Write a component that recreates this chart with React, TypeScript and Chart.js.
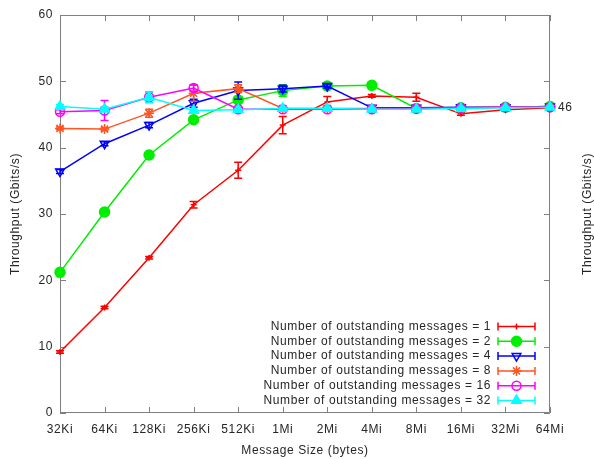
import React, { useEffect, useRef } from 'react';
import { Chart, registerables } from 'chart.js';
import { drawPoint } from 'chart.js/helpers';

Chart.register(...registerables);

const sizes = ['32Ki', '64Ki', '128Ki', '256Ki', '512Ki', '1Mi', '2Mi', '4Mi', '8Mi', '16Mi', '32Mi', '64Mi'];
const yTicks = [0, 10, 20, 30, 40, 50, 60];

const out1 = [9.2, 15.9, 23.4, 31.4, 36.6, 43.4, 46.9, 47.8, 47.6, 45.1, 45.7, 46.0];
const out1Err = [0.2, 0.2, 0.2, 0.5, 1.2, 1.3, 0.8, 0.2, 0.6, 0.2, 0.2, 0.2];
const out2 = [21.2, 30.3, 38.9, 44.2, 47.2, 48.6, 49.3, 49.4, 45.9, 46.0, 46.1, 46.2];
const out2Err = [0.2, 0.2, 0.2, 0.2, 0.3, 0.9, 0.3, 0.2, 0.2, 0.2, 0.2, 0.2];
const out4 = [36.4, 40.6, 43.4, 46.7, 48.6, 48.9, 49.3, 46.0, 46.0, 46.1, 46.1, 46.2];
const out4Err = [0.3, 0.3, 0.4, 0.6, 1.3, 0.5, 0.3, 0.2, 0.2, 0.2, 0.2, 0.2];
const out8 = [42.9, 42.8, 45.2, 48.2, 48.9, 45.9, 45.9, 45.9, 45.9, 46.0, 46.1, 46.1];
const out8Err = [0.2, 0.2, 0.6, 1.2, 0.6, 0.3, 0.3, 0.2, 0.2, 0.2, 0.2, 0.2];
const out16 = [45.4, 45.6, 47.6, 49.0, 45.8, 45.8, 45.8, 45.8, 45.9, 46.0, 46.1, 46.1];
const out16Err = [0.3, 1.5, 0.8, 0.5, 0.3, 0.3, 0.3, 0.2, 0.2, 0.2, 0.2, 0.2];
const out32 = [46.2, 45.8, 47.6, 45.6, 45.7, 45.9, 45.9, 45.8, 45.8, 45.9, 46.0, 46.1];
const out32Err = [0.3, 0.3, 0.8, 0.2, 0.2, 0.2, 0.2, 0.2, 0.2, 0.2, 0.2, 0.2];

const endLabelValue = 46.1;
const endLabelText = '46';

const FONT = "'Liberation Sans', Arial, sans-serif";
const TEXT = '#262626';
const AXIS = '#808080';
const SPACING = '0.6px';

const series = [
  { label: 'Number of outstanding messages = 1', data: out1, err: out1Err, color: '#ff0000', style: 'cross', radius: 3, rot: 0, fill: true },
  { label: 'Number of outstanding messages = 2', data: out2, err: out2Err, color: '#00ee00', style: 'circle', radius: 5, rot: 0, fill: true },
  { label: 'Number of outstanding messages = 4', data: out4, err: out4Err, color: '#0000ff', style: 'triangle', radius: 5, rot: 180, fill: false },
  { label: 'Number of outstanding messages = 8', data: out8, err: out8Err, color: '#ff5522', style: 'star', radius: 5, rot: 0, fill: false },
  { label: 'Number of outstanding messages = 16', data: out16, err: out16Err, color: '#ff00ff', style: 'circle', radius: 4.5, rot: 0, fill: false },
  { label: 'Number of outstanding messages = 32', data: out32, err: out32Err, color: '#00ffff', style: 'triangle', radius: 5.5, rot: 0, fill: true },
];

const gnuplotPlugin = {
  id: 'gnuplotLook',
  beforeDraw(chart: any) {
    (chart.ctx as any).letterSpacing = SPACING;
  },
  beforeDatasetsDraw(chart: any) {
    const { ctx, chartArea } = chart;
    const { left, right, top, bottom } = chartArea;
    const xs = chart.scales.x;
    const ys = chart.scales.y;
    ctx.save();
    ctx.strokeStyle = AXIS;
    ctx.lineWidth = 1;
    ctx.beginPath();
    ctx.rect(left + 0.5, top + 0.5, right - left - 1, bottom - top - 1);
    ctx.stroke();
    ctx.beginPath();
    yTicks.forEach((v) => {
      const y = Math.round(ys.getPixelForValue(v)) + 0.5;
      ctx.moveTo(left, y); ctx.lineTo(left + 6, y);
      ctx.moveTo(right, y); ctx.lineTo(right - 6, y);
    });
    sizes.forEach((_, i) => {
      const x = Math.round(xs.getPixelForValue(i)) + 0.5;
      ctx.moveTo(x, bottom); ctx.lineTo(x, bottom - 6);
      ctx.moveTo(x, top); ctx.lineTo(x, top + 6);
    });
    ctx.stroke();
    ctx.restore();
  },
  beforeDatasetDraw(chart: any, args: any) {
    const s = series[args.index];
    const { ctx } = chart;
    const xs = chart.scales.x;
    const ys = chart.scales.y;
    ctx.save();
    ctx.strokeStyle = s.color;
    ctx.lineWidth = 1.5;
    ctx.beginPath();
    s.data.forEach((v, i) => {
      const x = xs.getPixelForValue(i);
      const y1 = ys.getPixelForValue(v + s.err[i]);
      const y2 = ys.getPixelForValue(v - s.err[i]);
      ctx.moveTo(x, y1); ctx.lineTo(x, y2);
      ctx.moveTo(x - 4, y1); ctx.lineTo(x + 4, y1);
      ctx.moveTo(x - 4, y2); ctx.lineTo(x + 4, y2);
    });
    ctx.stroke();
    ctx.restore();
  },
  afterDraw(chart: any) {
    const { ctx, chartArea } = chart;
    const { left, right, top, bottom } = chartArea;
    ctx.save();
    ctx.letterSpacing = SPACING;
    ctx.fillStyle = TEXT;
    ctx.font = `12px ${FONT}`;
    ctx.textAlign = 'center';
    ctx.textBaseline = 'middle';
    ctx.fillText('Message Size (bytes)', (left + right) / 2, 451);
    const midY = (top + bottom) / 2;
    ctx.save();
    ctx.translate(15.5, midY);
    ctx.rotate(-Math.PI / 2);
    ctx.fillText('Throughput (Gbits/s)', 0, 0);
    ctx.restore();
    ctx.save();
    ctx.translate(588, midY);
    ctx.rotate(-Math.PI / 2);
    ctx.fillText('Throughput (Gbits/s)', 0, 0);
    ctx.restore();
    ctx.textAlign = 'left';
    ctx.fillText(endLabelText, right + 8, chart.scales.y2.getPixelForValue(endLabelValue));
    const rowY0 = 326.5;
    const rowH = 14.8;
    series.forEach((s, i) => {
      const y = rowY0 + i * rowH;
      ctx.fillStyle = TEXT;
      ctx.textAlign = 'right';
      ctx.fillText(s.label, 491, y);
      ctx.strokeStyle = s.color;
      ctx.lineWidth = 1.5;
      ctx.beginPath();
      ctx.moveTo(498, y); ctx.lineTo(535, y);
      ctx.moveTo(498, y - 4); ctx.lineTo(498, y + 4);
      ctx.moveTo(535, y - 4); ctx.lineTo(535, y + 4);
      ctx.stroke();
      ctx.fillStyle = s.fill ? s.color : 'rgba(0,0,0,0)';
      drawPoint(ctx, { pointStyle: s.style, radius: s.radius, rotation: s.rot, borderWidth: 1.5 } as any, 516.5, y);
    });
    ctx.restore();
  },
};

export default function App() {
  const ref = useRef<HTMLCanvasElement>(null);
  useEffect(() => {
    document.body.style.margin = '0';
    const canvas = ref.current!;
    const chart = new Chart(canvas, {
      type: 'line',
      data: {
        labels: sizes,
        datasets: series.map((s, i) => ({
          label: s.label,
          data: s.data,
          borderColor: s.color,
          backgroundColor: s.fill ? s.color : 'rgba(0,0,0,0)',
          pointBackgroundColor: s.fill ? s.color : 'rgba(0,0,0,0)',
          pointBorderColor: s.color,
          pointStyle: s.style as any,
          pointRadius: s.radius,
          pointRotation: s.rot,
          pointBorderWidth: 1.5,
          borderWidth: 1.5,
          tension: 0,
          fill: false,
          order: series.length - i,
        })),
      },
      options: {
        responsive: false,
        animation: false,
        devicePixelRatio: 1,
        layout: { padding: { top: 15, left: 0, right: 0, bottom: 0 } },
        plugins: { legend: { display: false }, tooltip: { enabled: false } },
        scales: {
          x: {
            type: 'category',
            offset: false,
            grid: { display: false, drawTicks: false },
            border: { display: false },
            ticks: { color: TEXT, font: { family: FONT, size: 12 }, padding: 9, maxRotation: 0, autoSkip: false },
            afterFit: (s: any) => { s.height = 46; },
          },
          y: {
            position: 'left',
            min: 0,
            max: 60,
            grid: { display: false, drawTicks: false },
            border: { display: false },
            ticks: { stepSize: 10, color: TEXT, font: { family: FONT, size: 12 }, padding: 7 },
            afterFit: (s: any) => { s.width = 60; },
          },
          y2: {
            position: 'right',
            min: 0,
            max: 60,
            grid: { display: false, drawTicks: false },
            border: { display: false },
            ticks: { display: false },
            afterFit: (s: any) => { s.width = 44; },
          },
        },
      },
      plugins: [gnuplotPlugin],
    });
    return () => chart.destroy();
  }, []);
  return <canvas ref={ref} width={594} height={459} style={{ display: 'block', width: 594, height: 459 }} />;
}
